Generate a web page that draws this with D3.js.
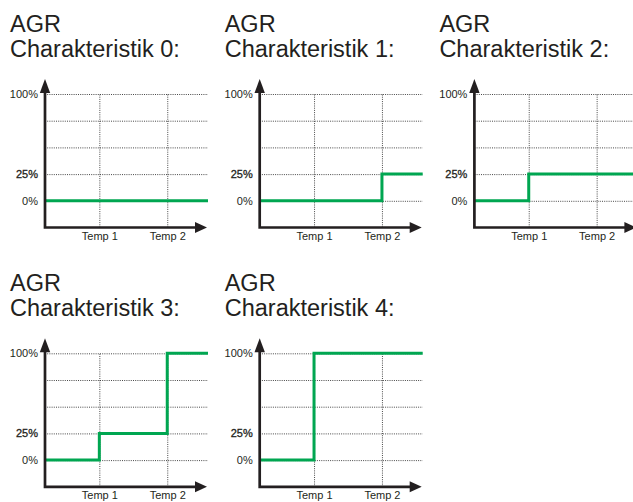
<!DOCTYPE html>
<html>
<head>
<meta charset="utf-8">
<script src="https://cdn.jsdelivr.net/npm/d3@7"></script>
<style>
  html, body { margin: 0; padding: 0; background: #fff; }
  svg { display: block; font-family: "Liberation Sans", Arial, sans-serif; }
</style>
</head>
<body>
<div id="chart"></div>
<script>
// AGR characteristics: step curve of output (%) over temperature
const titleLine1 = 'AGR';
const titleLines2 = ['Charakteristik 0:', 'Charakteristik 1:', 'Charakteristik 2:', 'Charakteristik 3:', 'Charakteristik 4:'];
// level before Temp 1, between Temp 1 and Temp 2, after Temp 2
const stepLevels = [
  [0, 0, 0],
  [0, 0, 25],
  [0, 25, 25],
  [0, 25, 100],
  [0, 100, 100],
];
const tempLabels = ['Temp 1', 'Temp 2'];
const tempValues = [1, 2.25];
const xEnd = 3;
const yTicks = [0, 25, 50, 75, 100];
const yLabelled = [0, 25, 100];

const W = 633, H = 502;
const COL_W = 214.7, ROW_H = 259.3;
const INK = '#231f20';
const GREEN = '#00a651';
const FONT = '"Liberation Sans", Arial, sans-serif';

const svg = d3.select('#chart').append('svg').attr('width', W).attr('height', H);

const x = d3.scaleLinear().domain([0, xEnd]).range([45, 208]);
const y = d3.scaleLinear().domain([-25, 100]).range([227.5, 94]);

titleLines2.forEach((t2, i) => {
  const col = i % 3, row = Math.floor(i / 3);
  const g = svg.append('g').attr('transform', `translate(${col * COL_W},${row * ROW_H})`);

  // title
  const title = g.append('text').attr('fill', INK).style('font-size', '23.5px');
  title.append('tspan').attr('x', 10).attr('y', 31.5).text(titleLine1);
  title.append('tspan').attr('x', 10).attr('y', 56.5).text(t2);

  // horizontal dotted gridlines
  g.append('g')
    .attr('transform', `translate(${x(0)},0)`)
    .call(d3.axisLeft(y).tickValues(yTicks).tickSize(-(x(xEnd) - x(0))).tickFormat(''))
    .call(a => a.select('.domain').remove())
    .call(a => a.selectAll('line').attr('stroke', '#333').attr('stroke-width', 0.9).attr('stroke-dasharray', '1,1.2'));

  // vertical dotted gridlines at Temp 1 / Temp 2
  g.append('g')
    .attr('transform', `translate(0,${y(-25)})`)
    .call(d3.axisBottom(x).tickValues(tempValues).tickSize(-(y(-25) - y(100))).tickFormat(''))
    .call(a => a.select('.domain').remove())
    .call(a => a.selectAll('line').attr('stroke', '#333').attr('stroke-width', 0.9).attr('stroke-dasharray', '1,1.2'));

  // y tick labels
  g.append('g')
    .attr('transform', `translate(${x(0)},0)`)
    .call(d3.axisLeft(y).tickValues(yLabelled).tickSize(0).tickPadding(7).tickFormat(d => d + '%'))
    .call(a => a.select('.domain').remove())
    .call(a => a.selectAll('text')
      .attr('fill', INK)
      .style('font-size', '11px')
      .style('font-family', FONT)
      .attr('stroke', d => d === 25 ? INK : 'none')
      .attr('stroke-width', 0.3));

  // x tick labels
  g.append('g')
    .attr('transform', `translate(0,${y(-25)})`)
    .call(d3.axisBottom(x).tickValues(tempValues).tickSize(0).tickPadding(4.5).tickFormat((d, k) => tempLabels[k]))
    .call(a => a.select('.domain').remove())
    .call(a => a.selectAll('text')
      .attr('fill', INK)
      .style('font-size', '11px')
      .style('font-family', FONT));

  // step curve
  const lv = stepLevels[i];
  const pts = [[0, lv[0]], [tempValues[0], lv[1]], [tempValues[1], lv[2]], [xEnd, lv[2]]];
  g.append('path')
    .datum(pts)
    .attr('fill', 'none')
    .attr('stroke', GREEN)
    .attr('stroke-width', 3)
    .attr('d', d3.line().x(d => x(d[0])).y(d => y(d[1])).curve(d3.curveStepAfter));

  // axes with arrowheads
  const x0 = x(0), yb = y(-25);
  const yTip = 79, xTip = x(xEnd) - 1;
  g.append('path')
    .attr('fill', 'none').attr('stroke', INK).attr('stroke-width', 2.7)
    .attr('d', `M${x0},${yTip + 8}V${yb}H${xTip - 8}`);
  g.append('path').attr('fill', INK)
    .attr('d', `M${x0},${yTip}L${x0 - 5.2},${yTip + 14}L${x0 + 5.2},${yTip + 14}Z`);
  g.append('path').attr('fill', INK)
    .attr('d', `M${xTip},${yb}L${xTip - 12},${yb - 5.5}L${xTip - 12},${yb + 5.5}Z`);
});
</script>
</body>
</html>
